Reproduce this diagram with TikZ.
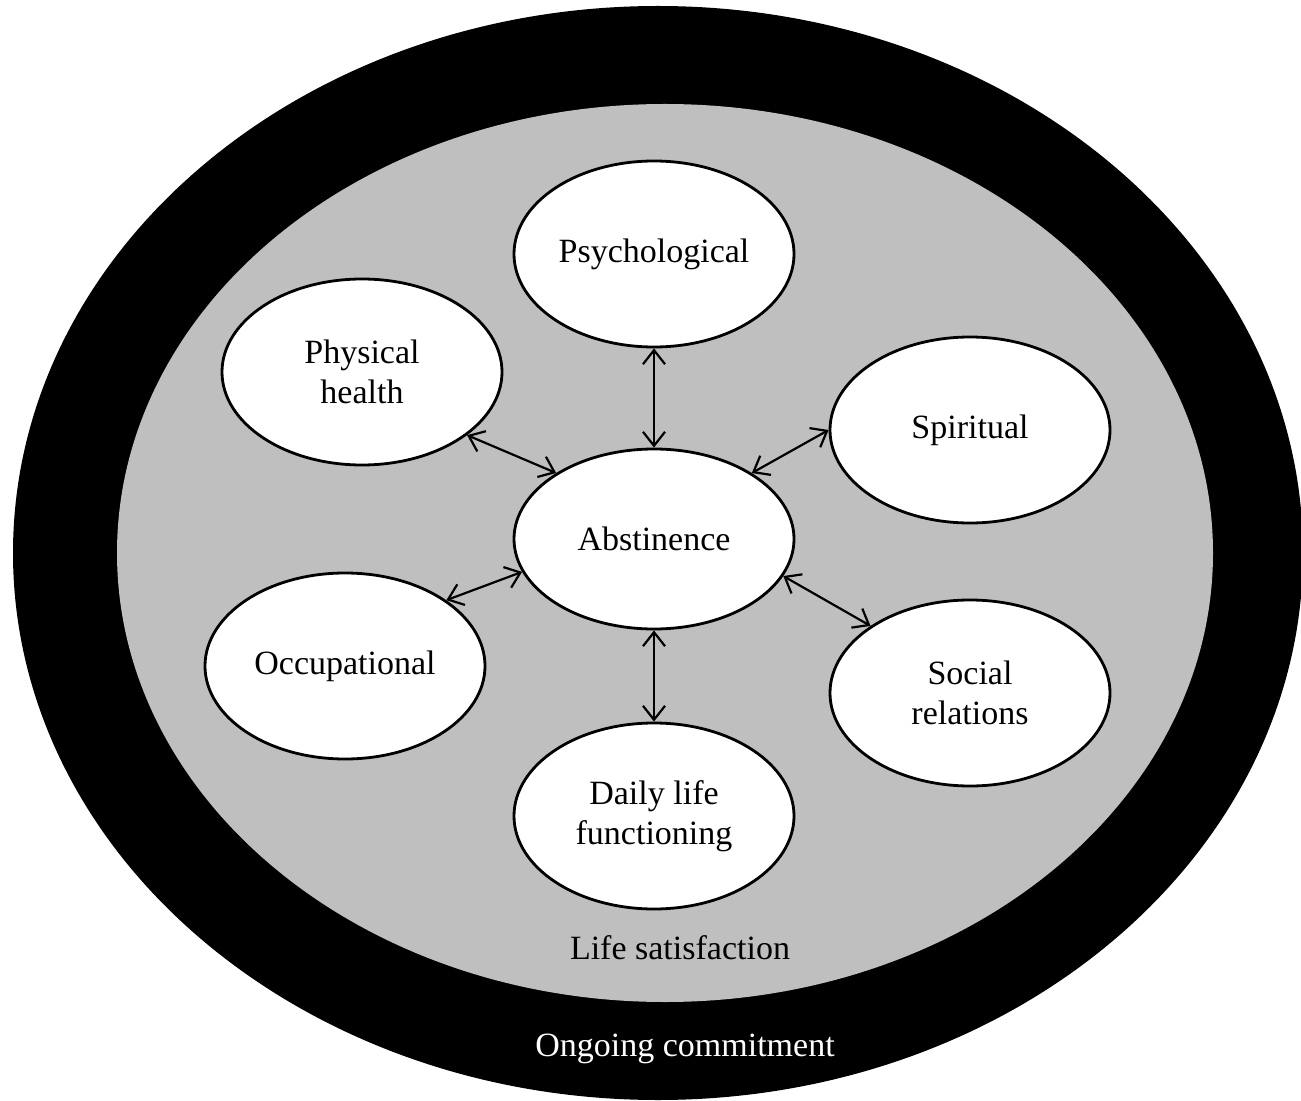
\documentclass[tikz,border=0pt]{standalone}
\usepackage{fontspec}
\setmainfont{Liberation Serif}
\usetikzlibrary{shapes.geometric,arrows.meta}
\definecolor{ringgray}{RGB}{191,191,191}
\begin{document}
\begin{tikzpicture}[x=0.5pt,y=-0.5pt,
  every node/.style={font=\fontsize{17}{20}\selectfont},
  oval/.style={ellipse,draw=black,line width=1.4pt,fill=white,minimum width=140pt,minimum height=93pt,inner sep=0pt,align=center},
  link/.style={line width=1.1pt,{Straight Barb[length=7pt,width=11pt]}-{Straight Barb[length=7pt,width=11pt]}}]
\useasboundingbox (0,0) rectangle (1301,1101);
\fill[black] (658,553) ellipse [x radius=645, y radius=547];
\fill[ringgray] (665,553) ellipse [x radius=548, y radius=449];
\node[oval] (psy) at (654,254) {Psychological};
\node[oval] (phy) at (362,372) {Physical\\health};
\node[oval] (spi) at (970,430) {Spiritual};
\node[oval,minimum height=90pt] (abs) at (654,539) {Abstinence};
\node[oval] (occ) at (345,666) {Occupational};
\node[oval] (soc) at (970,693) {Social\\relations};
\node[oval] (dai) at (654,816) {Daily life\\functioning};
\node (life) at (680,948) {Life satisfaction};
\node[text=white] (ong) at (685,1049) {Ongoing commitment};
\draw[link] (psy.south) -- (abs.north);
\draw[link] (phy.-31) -- (abs.146);
\draw[link] (spi.180) -- (abs.34);
\draw[link] (occ.33) -- (abs.194);
\draw[link] (soc.146) -- (abs.344);
\draw[link] (dai.north) -- (abs.south);
\end{tikzpicture}
\end{document}
